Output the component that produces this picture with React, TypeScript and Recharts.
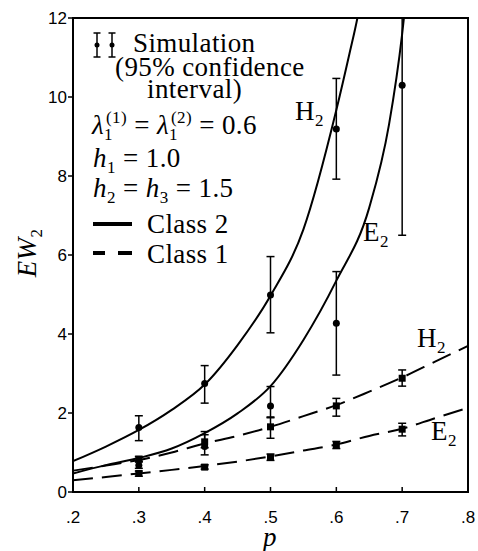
import { ComposedChart, Line, Scatter, ErrorBar, XAxis, YAxis, ReferenceArea } from 'recharts';

// analytic curves, read at fixed p steps
const pCurveH2c2 = [0.2, 0.25, 0.3, 0.35, 0.4, 0.45, 0.5, 0.55, 0.6, 0.62, 0.632, 0.65];
const h2Class2 = [0.78, 1.15, 1.57, 2.08, 2.72, 3.72, 4.97, 6.65, 9.67, 11.1, 12.0, 13.8];
const pCurveE2c2 = [0.2, 0.25, 0.3, 0.35, 0.4, 0.45, 0.5, 0.55, 0.6, 0.65, 0.68, 0.7, 0.71];
const e2Class2 = [0.47, 0.68, 0.86, 1.1, 1.49, 1.99, 2.68, 3.85, 5.35, 7.2, 9.3, 11.6, 13.2];
const pCurveC1 = [0.2, 0.25, 0.3, 0.35, 0.4, 0.45, 0.5, 0.55, 0.6, 0.65, 0.7, 0.75, 0.8];
const h2Class1 = [0.54, 0.67, 0.81, 1.0, 1.23, 1.42, 1.65, 1.92, 2.2, 2.54, 2.9, 3.3, 3.7];
const e2Class1 = [0.3, 0.38, 0.47, 0.56, 0.66, 0.77, 0.9, 1.05, 1.2, 1.42, 1.6, 1.87, 2.13];

// simulation means with 95% confidence limits
const pSimH2c2 = [0.3, 0.4, 0.5, 0.6];
const simH2c2 = [1.63, 2.75, 4.99, 9.19];
const simH2c2Lo = [1.3, 2.25, 4.03, 7.92];
const simH2c2Hi = [1.93, 3.2, 5.96, 10.47];

const pSimE2c2 = [0.3, 0.4, 0.5, 0.6, 0.7];
const simE2c2 = [0.68, 1.15, 2.18, 4.27, 10.3];
const simE2c2Lo = [0.6, 0.94, 1.88, 2.96, 6.5];
const simE2c2Hi = [0.78, 1.53, 2.67, 5.58, 12.0];

const pSimC1 = [0.3, 0.4, 0.5, 0.6, 0.7];
const simH2c1 = [0.83, 1.27, 1.65, 2.18, 2.88];
const simH2c1Lo = [0.76, 1.12, 1.36, 1.92, 2.68];
const simH2c1Hi = [0.9, 1.45, 1.9, 2.37, 3.09];
const simE2c1 = [0.47, 0.63, 0.88, 1.19, 1.59];
const simE2c1Lo = [0.4, 0.58, 0.8, 1.1, 1.42];
const simE2c1Hi = [0.53, 0.69, 0.96, 1.28, 1.74];

const pTicks = [0.2, 0.3, 0.4, 0.5, 0.6, 0.7, 0.8];
const yTicks = [0, 2, 4, 6, 8, 10, 12];

const toCurve = (ps: number[], ys: number[]) => ps.map((p, i) => ({ p, y: ys[i] }));
const toSim = (ps: number[], ys: number[], lo: number[], hi: number[]) =>
  ps.map((p, i) => ({ p, y: ys[i], err: [ys[i] - lo[i], hi[i] - ys[i]] }));

const SERIF = '"Liberation Serif", "Times New Roman", Times, "DejaVu Serif", serif';
const SANS = '"Liberation Sans", Arial, sans-serif';

const XTick = (props: any) => {
  const { x, y, payload } = props;
  return (
    <g>
      <line x1={x} x2={x} y1={y} y2={y - 5} stroke="#000" strokeWidth={1.5} />
      <text x={x} y={y + 31} textAnchor="middle" style={{ fontFamily: SANS, fontSize: 17 }} fill="#000">
        {String(payload.value).replace(/^0/, '')}
      </text>
    </g>
  );
};

const YTick = (props: any) => {
  const { x, y, payload } = props;
  return (
    <g>
      <line x1={x} x2={x - 5} y1={y} y2={y} stroke="#000" strokeWidth={1.5} />
      <text x={x - 6} y={y + 6} textAnchor="end" style={{ fontFamily: SANS, fontSize: 17 }} fill="#000">
        {payload.value}
      </text>
    </g>
  );
};

const Dot = (props: any) => <circle cx={props.cx} cy={props.cy} r={3.5} fill="#000" />;
const Sq = (props: any) => <rect x={props.cx - 3.5} y={props.cy - 3.5} width={7} height={7} fill="#000" />;

const Sub = ({ children, dx = 0 }: { children: string; dx?: number }) => (
  <tspan style={{ fontSize: 17 }} dy={6} dx={dx}>{children}</tspan>
);
const Sup = ({ children }: { children: string }) => (
  <tspan style={{ fontSize: 17 }} dx={-7} dy={-17}>{children}</tspan>
);
const It = ({ children }: { children: string }) => <tspan style={{ fontStyle: 'italic' }}>{children}</tspan>;

export default function App() {
  return (
    <div style={{ position: 'absolute', left: 0, top: 0, width: 478, height: 551, background: '#fff' }}>
      <ComposedChart width={478} height={551} margin={{ top: 18, right: 10, bottom: 58, left: 72 }}>
        <XAxis
          type="number"
          dataKey="p"
          domain={[0.2, 0.8]}
          ticks={pTicks}
          interval={0}
          height={1}
          tickSize={0}
          tickMargin={0}
          tick={XTick}
          axisLine={{ stroke: '#000', strokeWidth: 2 }}
          allowDataOverflow
        />
        <YAxis
          type="number"
          dataKey="y"
          domain={[0, 12]}
          ticks={yTicks}
          interval={0}
          width={1}
          tickSize={0}
          tickMargin={0}
          tick={YTick}
          axisLine={{ stroke: '#000', strokeWidth: 2 }}
          allowDataOverflow
        />
        <ReferenceArea x1={0.2} x2={0.8} y1={0} y2={12} fill="none" stroke="#000" strokeWidth={2} />
        <Line data={toCurve(pCurveH2c2, h2Class2)} dataKey="y" type="monotone" stroke="#000" strokeWidth={2} dot={false} isAnimationActive={false} />
        <Line data={toCurve(pCurveE2c2, e2Class2)} dataKey="y" type="monotone" stroke="#000" strokeWidth={2} dot={false} isAnimationActive={false} />
        <Line data={toCurve(pCurveC1, h2Class1)} dataKey="y" type="monotone" stroke="#000" strokeWidth={2} strokeDasharray="20 9" dot={false} isAnimationActive={false} />
        <Line data={toCurve(pCurveC1, e2Class1)} dataKey="y" type="monotone" stroke="#000" strokeWidth={2} strokeDasharray="20 9" dot={false} isAnimationActive={false} />
        <Scatter data={toSim(pSimH2c2, simH2c2, simH2c2Lo, simH2c2Hi)} dataKey="y" shape={Dot} isAnimationActive={false}>
          <ErrorBar dataKey="err" direction="y" width={4} stroke="#000" strokeWidth={1.5} />
        </Scatter>
        <Scatter data={toSim(pSimE2c2, simE2c2, simE2c2Lo, simE2c2Hi)} dataKey="y" shape={Dot} isAnimationActive={false}>
          <ErrorBar dataKey="err" direction="y" width={4} stroke="#000" strokeWidth={1.5} />
        </Scatter>
        <Scatter data={toSim(pSimC1, simH2c1, simH2c1Lo, simH2c1Hi)} dataKey="y" shape={Sq} isAnimationActive={false}>
          <ErrorBar dataKey="err" direction="y" width={4} stroke="#000" strokeWidth={1.5} />
        </Scatter>
        <Scatter data={toSim(pSimC1, simE2c1, simE2c1Lo, simE2c1Hi)} dataKey="y" shape={Sq} isAnimationActive={false}>
          <ErrorBar dataKey="err" direction="y" width={4} stroke="#000" strokeWidth={1.5} />
        </Scatter>
      </ComposedChart>

      {/* legend, curve names and axis titles */}
      <svg width={478} height={551} style={{ position: 'absolute', left: 0, top: 0, pointerEvents: 'none' }}>
        <g stroke="#000" strokeWidth={1.5}>
          <line x1={97} x2={97} y1={33} y2={57} />
          <line x1={93.5} x2={100.5} y1={33} y2={33} />
          <line x1={93.5} x2={100.5} y1={57} y2={57} />
          <line x1={112} x2={112} y1={33} y2={57} />
          <line x1={108.5} x2={115.5} y1={33} y2={33} />
          <line x1={108.5} x2={115.5} y1={57} y2={57} />
        </g>
        <circle cx={97} cy={45} r={2.5} fill="#000" />
        <circle cx={112} cy={45} r={2.5} fill="#000" />
        <g style={{ fontFamily: SERIF, fontSize: 27, letterSpacing: 0.4 }} fill="#000">
          <text x={133} y={52}>Simulation</text>
          <text x={115} y={76}>(95% confidence</text>
          <text x={147} y={98}>interval)</text>
          <text x={92} y={134}>
            <It>λ</It>
            <Sub>1</Sub>
            <Sup>(1)</Sup>
            <tspan dy={11}> = </tspan>
            <It>λ</It>
            <Sub>1</Sub>
            <Sup>(2)</Sup>
            <tspan dy={11}> = 0.6</tspan>
          </text>
          <text x={93} y={167}>
            <It>h</It>
            <Sub>1</Sub>
            <tspan dy={-6}> = 1.0</tspan>
          </text>
          <text x={93} y={197}>
            <It>h</It>
            <Sub>2</Sub>
            <tspan dy={-6}> = </tspan>
            <It>h</It>
            <Sub>3</Sub>
            <tspan dy={-6}> = 1.5</tspan>
          </text>
          <text x={147} y={233}>Class 2</text>
          <text x={147} y={263}>Class 1</text>

          <text x={295} y={120}>H<Sub>2</Sub></text>
          <text x={363} y={241}>E<Sub>2</Sub></text>
          <text x={417} y={347}>H<Sub>2</Sub></text>
          <text x={431} y={440}>E<Sub>2</Sub></text>

          <text x={270} y={546} textAnchor="middle"><It>p</It></text>
          <text transform="translate(36 253) rotate(-90)" textAnchor="middle">
            <It>EW</It>
            <Sub>2</Sub>
          </text>
        </g>
        <line x1={93} x2={132} y1={224} y2={224} stroke="#000" strokeWidth={4} />
        <line x1={93} x2={105} y1={253} y2={253} stroke="#000" strokeWidth={4} />
        <line x1={118} x2={132} y1={253} y2={253} stroke="#000" strokeWidth={4} />
      </svg>
    </div>
  );
}
